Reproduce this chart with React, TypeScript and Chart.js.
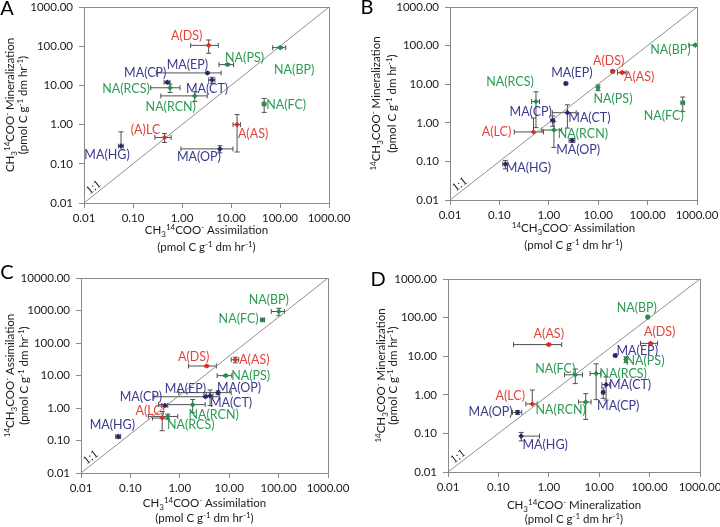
import React, { useEffect, useRef } from 'react';
import { Chart, registerables } from 'chart.js';

Chart.register(...registerables);

// ---------------- data ----------------
const sites = ['A(DS)', 'A(AS)', 'A(LC)', 'MA(EP)', 'MA(CT)', 'MA(CP)', 'MA(OP)', 'MA(HG)', 'NA(BP)', 'NA(PS)', 'NA(FC)', 'NA(RCS)', 'NA(RCN)'];
const sitesPanelA = ['A(DS)', 'A(AS)', '(A)LC', 'MA(EP)', 'MA(CT)', 'MA(CP)', 'MA(OP)', 'MA(HG)', 'NA(BP)', 'NA(PS)', 'NA(FC)', 'NA(RCS)', 'NA(RCN)'];
const siteGroups = ['A', 'A', 'A', 'MA', 'MA', 'MA', 'MA', 'MA', 'NA', 'NA', 'NA', 'NA', 'NA'];

// CH3-14COO- assimilation / mineralization (pmol C g-1 dm hr-1)
const assimCH3 = [3.5, 13.3, 0.44, 3.3, 4.1, 0.5, 5.95, 0.057, 101, 8.5, 47.5, 0.57, 1.82];
const assimCH3Err = [2.0, 2.3, 0.16, 3.0, 0.6, 0.07, 5.0, 0.0065, 30, 2.8, 4, 0.34, 1.45];
const minerCH3 = [105, 1.0, 0.47, 20.8, 13.7, 12.0, 0.24, 0.283, 92, 34, 3.35, 8.7, 5.4];
const minerCH3Err = [39, 0.8, 0.12, 1.2, 2.4, 0.8, 0.05, 0.37, 5, 2.0, 1.3, 2.1, 1.5];
// 14CH3COO- assimilation / mineralization
const assim14CH3 = [19.6, 30.6, 0.49, 2.22, 2.38, 1.2, 2.97, 0.132, 930, 9.9, 515, 0.55, 1.27];
const assim14CH3Err = [1.2, 6, 0.29, 0.13, 1.2, 0.1, 0.4, 0.015, 240, 0.5, 40, 0.1, 0.55];
const miner14CH3 = [21.5, 20, 0.58, 10.4, 1.83, 1.16, 0.35, 0.085, 103, 8.2, 3.3, 3.55, 0.65];
const miner14CH3Err = [1, 1.2, 0.75, 0.5, 1.1, 0.35, 0.04, 0.021, 5, 1.4, 1.35, 2.8, 0.42];

const tickValues = [0.01, 0.1, 1, 10, 100, 1000];
const tickLabels = ['0.01', '0.10', '1.00', '10.00', '100.00', '1000.00'];
const tickValuesC = [0.01, 0.1, 1, 10, 100, 1000, 10000];
const tickLabelsC = ['0.01', '0.10', '1.00', '10.00', '100.00', '1000.00', '10000.00'];

const diagonal = [[0.01, 0.01], [1000, 1000]];
const diagonalC = [[0.01, 0.01], [1000, 10000]];

// rich-text titles: [text, mode] mode 0 normal, 1 superscript, -1 subscript
const tCH3Assim = [['CH', 0], ['3', -1], ['14', 1], ['COO', 0], ['-', 1], [' Assimilation', 0]];
const tCH3Miner = [['CH', 0], ['3', -1], ['14', 1], ['COO', 0], ['-', 1], [' Mineralization', 0]];
const t14Assim = [['14', 1], ['CH', 0], ['3', -1], ['COO', 0], ['-', 1], [' Assimilation', 0]];
const t14Miner = [['14', 1], ['CH', 0], ['3', -1], ['COO', 0], ['-', 1], [' Mineralization', 0]];
const tUnits = [['(pmol C g', 0], ['-1', 1], [' dm hr', 0], ['-1', 1], [')', 0]];

// ---------------- styling ----------------
const groupText = { A: '#e3443a', MA: '#3a3a8e', NA: '#2b9c55' };
const groupPoint = { A: '#e02a22', MA: '#26266e', NA: '#1b9448' };
const FONT = 'Lato';

// label offsets (px) from each point, site order
const offA = [[-22, -9], [16, 9], [-19, -7], [-20, -8], [-5, 9], [-22, -9], [-21, 8], [-14, 9], [14, 22], [17, -7], [22, 1], [-44, 1], [-24, 11]];
const offB = [[-4, -10], [17, 4], [-37, 0], [6, -11], [22, 5], [-22, -8], [6, 10], [23, 4], [-25, 5], [15, 11], [-19, 13], [-26, -20], [29, 4]];
const offC = [[-13, -9], [19, 0], [-12, -7], [-20, -8], [21, 7], [-24, -8], [21, -5], [-6, -12], [-10, -12], [25, 0], [-24, -1], [23, 9], [21, 10]];
const offD = [[9, -11], [0, -11], [-22, -8], [22, -5], [24, 0], [15, 14], [-27, 0], [24, 9], [-11, -9], [19, 1], [-20, -6], [27, 0], [-25, 8]];

const panels = [
  { letter: 'A', left: 0, top: 0, w: 360, h: 262, area: { l: 84, r: 329, t: 7, b: 203 }, letterPos: [7, 9],
    xTitleOff: [27, 44], yTitleOff: [74, 61],
    xs: assimCH3, xe: assimCH3Err, ys: minerCH3, ye: minerCH3Err, names: sitesPanelA, offsets: offA,
    yTicks: tickValues, yLabels: tickLabels, diag: diagonal, xTitle: tCH3Assim, yTitle: tCH3Miner },
  { letter: 'B', left: 360, top: 0, w: 360, h: 262, area: { l: 90, r: 337, t: 7, b: 200 }, letterPos: [7, 8],
    xTitleOff: [28, 45], yTitleOff: [74, 58],
    xs: assim14CH3, xe: assim14CH3Err, ys: miner14CH3, ye: miner14CH3Err, names: sites, offsets: offB,
    yTicks: tickValues, yLabels: tickLabels, diag: diagonal, xTitle: t14Assim, yTitle: t14Miner },
  { letter: 'C', left: 0, top: 262, w: 360, h: 265, area: { l: 81, r: 328, t: 16, b: 211 }, letterPos: [7, 11],
    xTitleOff: [30, 45], yTitleOff: [71, 57],
    xs: assimCH3, xe: assimCH3Err, ys: assim14CH3, ye: assim14CH3Err, names: sites, offsets: offC,
    yTicks: tickValuesC, yLabels: tickLabelsC, diag: diagonalC, xTitle: tCH3Assim, yTitle: t14Assim },
  { letter: 'D', left: 360, top: 262, w: 360, h: 265, area: { l: 88, r: 340, t: 17, b: 210 }, letterPos: [18, 18],
    xTitleOff: [33, 47], yTitleOff: [67, 55],
    xs: minerCH3, xe: minerCH3Err, ys: miner14CH3, ye: miner14CH3Err, names: sites, offsets: offD,
    yTicks: tickValues, yLabels: tickLabels, diag: diagonal, xTitle: tCH3Miner, yTitle: t14Miner },
];

function drawRich(ctx, segs, cx, cy, size, rotate) {
  const small = Math.round(size * 0.68);
  let total = 0;
  const parts = segs.map(([t, m]) => {
    ctx.font = `${m === 0 ? size : small}px ${FONT}`;
    const w = ctx.measureText(t).width;
    total += w;
    return { t, m, w };
  });
  ctx.save();
  ctx.translate(cx, cy);
  if (rotate) ctx.rotate(-Math.PI / 2);
  ctx.textAlign = 'left';
  ctx.textBaseline = 'alphabetic';
  let x = -total / 2;
  const base = size * 0.36;
  parts.forEach((p) => {
    ctx.font = `${p.m === 0 ? size : small}px ${FONT}`;
    const dy = p.m === 1 ? -size * 0.38 : p.m === -1 ? size * 0.22 : 0;
    ctx.fillText(p.t, x, base + dy);
    x += p.w;
  });
  ctx.restore();
}

const decorPlugin = {
  id: 'panelDecor',
  beforeDatasetsDraw(chart) {
    const p = chart.options.plugins.panelDecor.panel;
    const { ctx, chartArea: a } = chart;
    const sx = chart.scales.x;
    const sy = chart.scales.y;
    ctx.save();
    ctx.beginPath();
    ctx.rect(a.left, a.top, a.right - a.left, a.bottom - a.top);
    ctx.clip();
    ctx.strokeStyle = '#505050';
    ctx.lineWidth = 1;
    const cap = 2.5;
    const seg = (x1, y1, x2, y2) => { ctx.beginPath(); ctx.moveTo(x1, y1); ctx.lineTo(x2, y2); ctx.stroke(); };
    p.xs.forEach((xv, i) => {
      const yv = p.ys[i];
      const px = sx.getPixelForValue(xv);
      const py = sy.getPixelForValue(yv);
      const xe = p.xe[i];
      const ye = p.ye[i];
      const hx = sx.getPixelForValue(xv + xe);
      seg(px, py, hx, py); seg(hx, py - cap, hx, py + cap);
      if (xv - xe > 0) {
        const lx = sx.getPixelForValue(xv - xe);
        seg(px, py, lx, py); seg(lx, py - cap, lx, py + cap);
      }
      const hy = sy.getPixelForValue(yv + ye);
      seg(px, py, px, hy); seg(px - cap, hy, px + cap, hy);
      if (yv - ye > 0) {
        const ly = sy.getPixelForValue(yv - ye);
        seg(px, py, px, ly); seg(px - cap, ly, px + cap, ly);
      }
    });
    ctx.restore();
  },
  afterDatasetsDraw(chart) {
    const p = chart.options.plugins.panelDecor.panel;
    const { ctx, chartArea: a } = chart;
    const sx = chart.scales.x;
    const sy = chart.scales.y;
    // box
    ctx.save();
    ctx.strokeStyle = '#8a8a8a';
    ctx.lineWidth = 1;
    ctx.strokeRect(Math.round(a.left) + 0.5, Math.round(a.top) + 0.5, Math.round(a.right - a.left), Math.round(a.bottom - a.top));
    // labels
    ctx.font = `12.5px ${FONT}`;
    ctx.textAlign = 'center';
    ctx.textBaseline = 'middle';
    p.xs.forEach((xv, i) => {
      const px = sx.getPixelForValue(xv);
      const py = sy.getPixelForValue(p.ys[i]);
      ctx.fillStyle = groupText[siteGroups[i]];
      ctx.fillText(p.names[i], px + p.offsets[i][0], py + p.offsets[i][1]);
    });
    // 1:1 label
    const p0x = sx.getPixelForValue(p.diag[0][0]);
    const p0y = sy.getPixelForValue(p.diag[0][1]);
    const p1x = sx.getPixelForValue(p.diag[1][0]);
    const p1y = sy.getPixelForValue(p.diag[1][1]);
    const ang = Math.atan2(p1y - p0y, p1x - p0x);
    const t = 0.055;
    ctx.save();
    ctx.translate(p0x + (p1x - p0x) * t, p0y + (p1y - p0y) * t);
    ctx.rotate(ang);
    ctx.fillStyle = '#1a1a1a';
    ctx.font = '12px "Liberation Serif"';
    ctx.fillText('1:1', 0, -6);
    ctx.restore();
    // titles
    ctx.fillStyle = '#1a1a1a';
    const cx = (a.left + a.right) / 2;
    const cy = (a.top + a.bottom) / 2;
    drawRich(ctx, p.xTitle, cx, a.bottom + p.xTitleOff[0], 11.5, false);
    drawRich(ctx, tUnits, cx, a.bottom + p.xTitleOff[1], 11.5, false);
    drawRich(ctx, p.yTitle, a.left - p.yTitleOff[0], cy, 11.5, true);
    drawRich(ctx, tUnits, a.left - p.yTitleOff[1], cy, 11.5, true);
    // panel letter
    ctx.font = `20px ${FONT}`;
    ctx.textAlign = 'center';
    ctx.textBaseline = 'middle';
    ctx.fillStyle = '#000';
    ctx.fillText(p.letter, p.letterPos[0], p.letterPos[1]);
    ctx.restore();
  },
};

function makeConfig(p) {
  const pts = p.xs.map((v, i) => ({ x: v, y: p.ys[i] }));
  const colors = siteGroups.map((g) => groupPoint[g]);
  const tickFont = { family: FONT, size: 11.5 };
  return {
    type: 'scatter',
    data: {
      datasets: [
        { data: pts, pointStyle: 'rectRot', pointRadius: 2.8, pointBackgroundColor: colors, pointBorderColor: colors, pointBorderWidth: 0 },
        { data: p.diag.map(([a, b]) => ({ x: a, y: b })), showLine: true, borderColor: '#8f8f8f', borderWidth: 1, pointRadius: 0 },
      ],
    },
    options: {
      responsive: false,
      animation: false,
      devicePixelRatio: 1,
      events: [],
      layout: { autoPadding: false, padding: { left: 0, top: p.area.t, right: p.w - p.area.r, bottom: 0 } },
      plugins: { legend: { display: false }, tooltip: { enabled: false }, panelDecor: { panel: p } },
      scales: {
        x: {
          type: 'logarithmic',
          min: tickValues[0],
          max: tickValues[tickValues.length - 1],
          afterBuildTicks: (s) => { s.ticks = tickValues.map((v) => ({ value: v })); },
          afterFit: (s) => { s.height = p.h - p.area.b; s.paddingLeft = 0; s.paddingRight = 0; },
          ticks: {
            autoSkip: false, maxRotation: 0, minRotation: 0, padding: 3, color: '#1a1a1a', font: tickFont,
            callback: (v) => { const i = tickValues.indexOf(v); return i >= 0 ? tickLabels[i] : ''; },
          },
          grid: { display: true, drawOnChartArea: false, tickLength: 5, color: '#8a8a8a' },
          border: { display: false },
        },
        y: {
          type: 'logarithmic',
          min: p.yTicks[0],
          max: p.yTicks[p.yTicks.length - 1],
          afterBuildTicks: (s) => { s.ticks = p.yTicks.map((v) => ({ value: v })); },
          afterFit: (s) => { s.width = p.area.l; s.paddingTop = 0; s.paddingBottom = 0; },
          ticks: {
            autoSkip: false, padding: 6, color: '#1a1a1a', font: tickFont,
            callback: (v) => { const i = p.yTicks.indexOf(v); return i >= 0 ? p.yLabels[i] : ''; },
          },
          grid: { display: true, drawOnChartArea: false, tickLength: 5, color: '#8a8a8a' },
          border: { display: false },
        },
      },
    },
    plugins: [decorPlugin],
  };
}

function Panel({ p }) {
  const ref = useRef(null);
  useEffect(() => {
    const chart = new Chart(ref.current, makeConfig(p));
    return () => chart.destroy();
  }, [p]);
  return (
    <canvas
      ref={ref}
      width={p.w}
      height={p.h}
      style={{ position: 'absolute', left: p.left, top: p.top, width: p.w, height: p.h }}
    />
  );
}

export default function App() {
  return (
    <div style={{ position: 'absolute', left: 0, top: 0, width: 720, height: 527, background: '#fff' }}>
      {panels.map((p) => (
        <Panel key={p.letter} p={p} />
      ))}
    </div>
  );
}
